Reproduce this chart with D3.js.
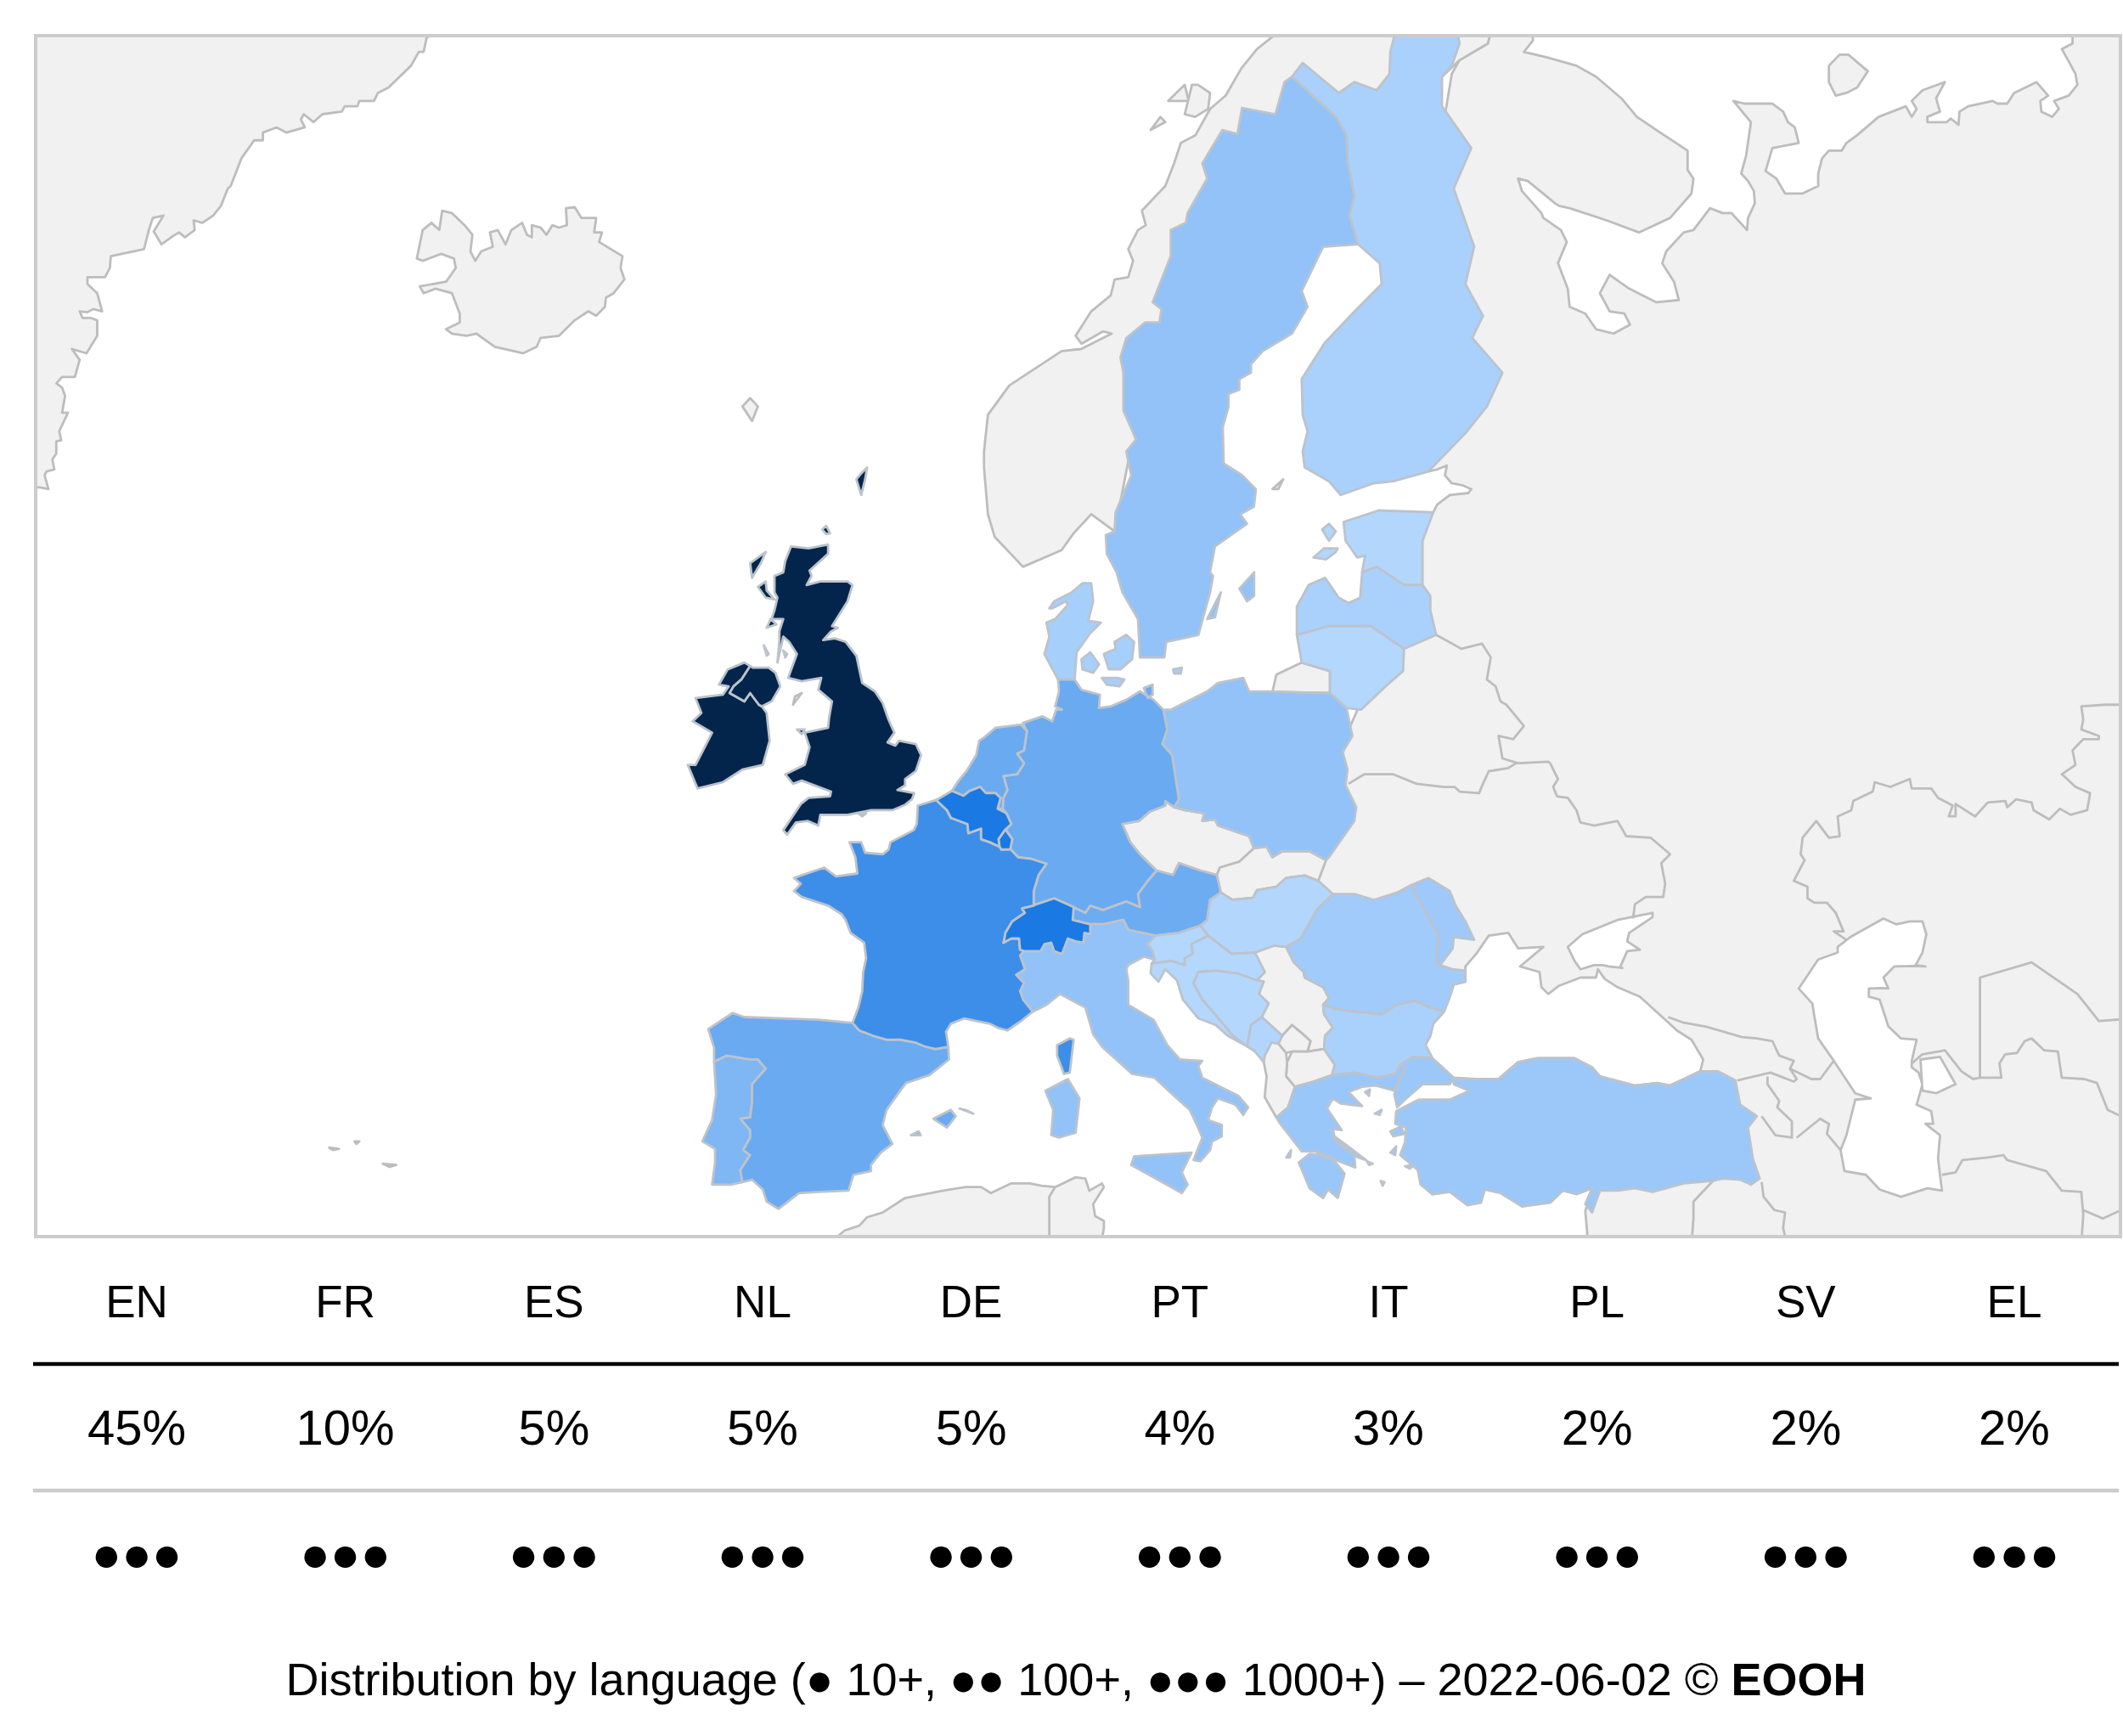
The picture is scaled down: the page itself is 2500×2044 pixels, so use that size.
<!DOCTYPE html>
<html>
<head>
<meta charset="utf-8">
<title>Distribution by language</title>
<script src="https://cdn.jsdelivr.net/npm/d3@7"></script>
<style>
  body { margin: 0; background: #fff; }
  text { font-family: "Liberation Sans", Arial, sans-serif; fill: #000; }
</style>
</head>
<body>
<div id="chart"></div>
<script>
// table under the map
var languages = ["EN","FR","ES","NL","DE","PT","IT","PL","SV","EL"];
var shares = [45,10,5,5,5,4,3,2,2,2];
var dotCounts = [3,3,3,3,3,3,3,3,3,3];

// country shade (relative level)
var shadeNames  = ["AT","MD","RO","BG","HU","SI","HR","BA","ME","EE","LV","LT","FI","DK","SE","PL","IT","GR","TR","PT","ES","DE","NL","FR","BE","LU","CH","IE","GB"];
var shadeValues = [5.2,2.4,2.2,1.7,1.2,1.1,1.1,1.1,1.3,1.2,1.7,1.1,1.7,1.9,3.1,3.1,3.1,2.6,2.5,4.2,5.4,5.4,5.4,8,10,10,10,20,20];

// outlines, [lon, lat]
var GB = [
 [[1.42,51.3],[1.3,51.1],[0.96,50.93],[0.3,50.75],[-0.8,50.75],[-2.0,50.6],[-3.4,50.6],[-3.5,50.25],[-4.05,50.4],[-4.65,50.35],[-5.1,49.95],[-5.3,50.1],[-4.4,50.95],[-4.0,51.15],[-2.9,51.2],[-2.85,51.35],[-4.35,51.7],[-4.8,51.6],[-5.2,51.9],[-4.2,52.2],[-3.95,52.75],[-4.2,53.2],[-3.0,53.35],[-2.95,53.65],[-2.8,54.15],[-3.5,54.5],[-3.35,54.85],[-4.35,54.75],[-5.05,54.85],[-4.6,55.55],[-5.0,55.9],[-5.3,56.05],[-5.6,55.3],[-5.5,55.95],[-5.5,56.2],[-5.3,56.55],[-5.9,56.55],[-5.75,56.8],[-5.6,57.15],[-5.75,57.3],[-5.75,57.75],[-5.3,57.85],[-5.2,58.15],[-4.9,58.55],[-4.0,58.5],[-3.0,58.6],[-3.0,58.35],[-3.95,57.9],[-3.85,57.75],[-4.1,57.5],[-3.4,57.6],[-2.0,57.6],[-1.75,57.5],[-2.0,57.05],[-2.8,56.35],[-2.5,56.3],[-2.85,56.2],[-3.25,55.95],[-2.65,56.0],[-2.1,55.9],[-1.55,55.5],[-1.25,54.7],[-0.6,54.45],[-0.2,54.1],[0.1,53.6],[0.4,53.2],[0.05,52.9],[0.45,52.8],[0.64,52.95],[1.5,52.85],[1.77,52.5],[1.5,52.0],[0.95,51.75],[0.95,51.55],[0.56,51.4]],
 [[-6.4,54.0],[-5.9,54.15],[-5.45,54.6],[-5.7,55.0],[-6.05,55.15],[-6.85,55.15],[-7.0,55.2],[-7.45,54.8],[-7.85,54.6],[-8.05,54.4],[-7.3,54.15],[-7.0,54.4],[-6.55,54.05]],
 [[-6.2,58.4],[-7.0,58.1],[-6.9,57.7],[-6.45,58.1]],
 [[-6.2,57.6],[-6.6,57.45],[-6.2,57.15],[-5.75,57.1],[-6.15,57.35]],
 [[-6.15,56.3],[-5.65,56.4],[-5.95,56.55]],
 [[-6.3,55.8],[-6.05,55.55],[-6.15,55.5]],
 [[-5.3,55.65],[-5.1,55.55],[-5.2,55.45]],
 [[-1.3,59.9],[-1.1,60.3],[-1.0,60.6],[-1.3,60.45],[-1.55,60.3]],
 [[-3.3,59.0],[-3.1,59.1],[-2.9,58.9],[-3.1,58.88]],
 [[-4.6,53.3],[-4.2,53.3],[-4.35,53.15]],
 [[-1.45,50.65],[-1.05,50.65],[-1.25,50.55]]
];
var IE = [[[-6.4,54.0],[-6.15,53.8],[-6.0,52.95],[-6.35,52.2],[-7.4,52.05],[-8.4,51.65],[-9.7,51.45],[-10.2,52.2],[-9.8,52.2],[-9.5,52.55],[-8.95,53.2],[-9.95,53.55],[-9.5,53.8],[-9.8,54.25],[-8.4,54.35],[-8.1,54.6],[-8.6,54.65],[-8.15,55.1],[-7.3,55.3],[-7.0,55.2],[-7.45,54.8],[-7.85,54.6],[-8.05,54.4],[-7.3,54.15],[-7.0,54.4],[-6.55,54.05]]];
var FR = [
 [[2.55,51.08],[1.6,50.9],[1.55,50.3],[1.4,50.1],[0.2,49.7],[0.1,49.45],[-0.2,49.3],[-1.1,49.35],[-1.3,49.7],[-1.9,49.7],[-1.6,49.2],[-1.5,48.65],[-2.6,48.55],[-3.2,48.85],[-4.75,48.5],[-4.4,48.3],[-4.75,48.05],[-4.35,47.85],[-3.0,47.55],[-2.3,47.25],[-2.1,47.05],[-1.85,46.6],[-1.15,46.25],[-1.05,45.7],[-1.2,45.2],[-1.25,44.5],[-1.45,43.9],[-1.75,43.33],[-1.4,43.05],[-0.7,42.85],[0.0,42.7],[0.7,42.7],[1.45,42.6],[1.95,42.45],[2.5,42.35],[3.17,42.43],[3.05,43.0],[3.3,43.3],[4.0,43.5],[4.6,43.4],[5.3,43.3],[5.7,43.15],[6.2,43.05],[6.9,43.4],[7.5,43.75],[7.0,44.2],[6.85,44.5],[7.05,44.8],[6.65,45.1],[7.1,45.3],[6.85,45.8],[7.05,45.95],[6.85,46.0],[6.8,46.4],[6.4,46.4],[6.0,46.25],[6.05,46.4],[6.1,46.6],[6.45,47.0],[7.1,47.3],[6.95,47.45],[7.55,47.55],[7.55,48.05],[7.8,48.6],[8.2,48.98],[7.4,49.15],[6.75,49.2],[6.35,49.47],[5.9,49.45],[5.8,49.55],[5.3,49.7],[4.85,49.8],[4.85,50.15],[4.2,50.0],[4.15,50.3],[3.3,50.5],[3.1,50.75]],
 [[9.4,42.75],[9.6,42.7],[9.4,41.45],[9.1,41.4],[8.75,42.1],[8.75,42.5]]
];
var BE = [[[2.55,51.08],[3.35,51.37],[3.95,51.22],[4.25,51.37],[4.8,51.5],[5.1,51.3],[5.6,51.3],[5.85,51.15],[5.7,50.8],[6.15,50.65],[6.4,50.3],[6.1,50.12],[5.75,49.8],[5.8,49.55],[5.3,49.7],[4.85,49.8],[4.85,50.15],[4.2,50.0],[4.15,50.3],[3.3,50.5],[3.1,50.75]]];
var LU = [[[6.1,50.12],[6.45,49.8],[6.35,49.47],[5.9,49.45],[5.8,49.55],[5.75,49.8]]];
var NL = [[[3.35,51.37],[3.7,51.7],[4.1,52.0],[4.6,52.5],[4.75,52.95],[5.0,53.05],[5.6,53.35],[6.9,53.45],[7.2,53.25],[7.05,52.65],[6.7,52.55],[7.05,52.25],[6.7,51.9],[6.0,51.85],[6.2,51.4],[6.0,51.15],[5.95,50.8],[5.7,50.8],[5.85,51.15],[5.6,51.3],[5.1,51.3],[4.8,51.5],[4.25,51.37],[3.95,51.22]]];
var DE = [
 [[7.2,53.25],[7.0,53.5],[8.0,53.7],[8.5,53.55],[8.7,53.9],[9.0,53.9],[8.65,54.0],[8.85,54.45],[8.8,54.8],[9.65,54.8],[10.0,54.5],[10.95,54.35],[10.9,53.95],[11.5,54.0],[12.3,54.2],[13.0,54.45],[13.7,54.2],[14.2,53.9],[14.4,53.3],[14.15,52.85],[14.65,52.5],[14.75,52.1],[15.0,51.1],[14.75,50.85],[14.3,51.05],[14.3,50.9],[13.5,50.7],[12.95,50.4],[12.1,50.3],[12.5,49.7],[13.0,49.3],[13.85,48.75],[13.4,48.4],[12.9,47.95],[13.0,47.5],[12.3,47.7],[11.1,47.4],[10.45,47.55],[10.2,47.3],[9.6,47.5],[8.6,47.8],[7.7,47.6],[7.55,47.55],[7.55,48.05],[7.8,48.6],[8.2,48.98],[7.4,49.15],[6.75,49.2],[6.35,49.47],[6.45,49.8],[6.1,50.12],[6.4,50.3],[6.15,50.65],[5.95,50.8],[6.0,51.15],[6.2,51.4],[6.0,51.85],[6.7,51.9],[7.05,52.25],[6.7,52.55],[7.05,52.65]],
 [[13.2,54.55],[13.65,54.65],[13.65,54.35],[13.4,54.25]]
];
var AT = [[[9.6,47.5],[10.2,47.3],[10.45,47.55],[11.1,47.4],[12.3,47.7],[13.0,47.5],[12.9,47.95],[13.4,48.4],[13.85,48.75],[14.7,48.6],[15.0,49.0],[16.1,48.75],[16.95,48.6],[17.15,48.0],[16.6,47.75],[16.45,47.05],[16.1,46.85],[15.0,46.6],[13.8,46.5],[12.4,46.7],[12.15,47.05],[11.1,46.9],[10.45,46.9],[9.55,47.05]]];
var CH = [[[6.0,46.25],[6.4,46.4],[6.8,46.4],[6.85,46.0],[7.05,45.95],[7.5,45.95],[7.9,45.95],[8.1,46.2],[8.45,46.25],[8.6,45.95],[9.0,45.85],[9.3,46.4],[9.7,46.3],[10.1,46.25],[10.15,46.6],[10.45,46.55],[10.45,46.9],[9.55,47.05],[9.6,47.5],[8.6,47.8],[7.7,47.6],[7.55,47.55],[6.95,47.45],[7.1,47.3],[6.45,47.0],[6.1,46.6],[6.05,46.4]]];
var PL = [[[14.2,53.9],[14.6,53.9],[16.45,54.45],[17.0,54.7],[18.3,54.85],[18.6,54.45],[19.55,54.45],[19.8,54.44],[22.75,54.4],[23.6,53.95],[23.9,53.1],[23.4,52.6],[23.65,52.05],[23.55,51.55],[24.1,50.85],[24.0,50.4],[22.7,49.2],[22.55,49.1],[21.7,49.4],[21.0,49.4],[20.3,49.4],[19.8,49.2],[19.5,49.55],[18.85,49.5],[18.6,49.9],[17.7,50.1],[17.0,50.25],[16.85,50.45],[16.2,50.4],[16.3,50.65],[15.3,50.75],[14.75,50.85],[15.0,51.1],[14.75,52.1],[14.65,52.5],[14.15,52.85],[14.4,53.3]]];
var LT = [[[21.05,56.1],[21.3,55.3],[22.75,55.05],[22.75,54.4],[23.6,53.95],[24.35,53.9],[25.7,54.65],[26.5,55.05],[26.55,55.7],[24.85,56.35],[22.7,56.35]]];
var LV = [[[21.05,56.1],[22.7,56.35],[24.85,56.35],[26.55,55.7],[28.2,56.1],[27.9,56.8],[27.9,57.2],[27.5,57.5],[26.55,57.5],[25.15,58.0],[24.4,57.85],[24.3,57.15],[23.7,57.0],[23.2,57.15],[22.5,57.7],[21.65,57.5],[21.05,56.9]]];
var EE = [
 [[23.45,59.2],[25.25,59.5],[28.05,59.45],[27.5,58.7],[27.5,57.5],[26.55,57.5],[25.15,58.0],[24.4,57.85],[24.55,58.3],[24.15,58.25],[23.55,58.7]],
 [[21.9,58.25],[22.45,58.5],[23.15,58.5],[23.05,58.4],[22.55,58.2]],
 [[22.35,59.0],[22.7,59.15],[23.05,58.95],[22.7,58.7]]
];
var FI = [
 [[26.1,69.85],[26.5,70.5],[28.9,70.5],[29.4,69.65],[29.0,69.25],[28.5,69.05],[28.5,68.5],[30.0,67.7],[29.1,66.9],[30.15,65.7],[29.7,64.9],[30.6,64.2],[30.05,63.7],[31.6,62.9],[30.8,62.1],[29.7,61.45],[27.8,60.5],[26.0,60.25],[25.0,60.2],[23.3,59.9],[22.7,60.25],[21.45,60.6],[21.35,61.0],[21.6,61.5],[21.35,61.9],[21.3,62.75],[22.5,63.6],[23.9,64.25],[25.4,64.9],[25.3,65.35],[24.2,65.75],[23.75,66.35],[24.0,66.75],[23.65,67.45],[23.6,67.95],[23.05,68.3],[20.8,69.05],[21.35,69.3],[22.2,69.05],[23.2,68.75],[24.0,68.95],[25.15,68.8],[25.8,69.1],[25.85,69.5]]
];
var SE = [
 [[20.8,69.05],[20.42,68.95],[19.95,68.35],[18.24,68.47],[18.0,67.97],[17.23,68.05],[16.2,67.4],[16.45,67.1],[15.44,66.4],[15.36,66.2],[14.58,66.05],[14.58,65.5],[13.65,64.5],[14.1,64.35],[14.0,64.05],[13.26,64.05],[12.3,63.7],[12.0,63.25],[12.15,62.9],[12.15,62.0],[12.8,61.3],[12.3,61.0],[12.55,60.4],[11.75,59.45],[11.7,58.95],[11.25,58.85],[11.3,58.35],[11.8,57.85],[12.1,57.3],[12.9,56.55],[13.0,55.45],[14.25,55.45],[14.35,55.9],[16.0,56.1],[16.6,57.3],[16.75,57.75],[16.6,57.85],[16.85,58.55],[18.5,59.15],[18.15,59.4],[18.85,59.6],[18.95,60.05],[18.25,60.4],[17.3,60.7],[17.25,61.6],[17.55,62.1],[17.55,62.4],[18.1,62.5],[18.1,62.75],[18.7,62.9],[18.7,63.1],[19.3,63.4],[20.8,63.8],[21.6,64.4],[21.3,64.75],[22.4,65.7],[24.2,65.75],[23.75,66.35],[24.0,66.75],[23.65,67.45],[23.6,67.95],[23.05,68.3]],
 [[18.1,57.4],[18.86,57.85],[18.86,57.2],[18.5,57.05]],
 [[16.45,56.55],[17.15,57.3],[16.85,56.6]]
];
var DK = [
 [[10.05,57.55],[10.5,57.55],[10.6,57.05],[10.35,56.5],[11,56.45],[10.45,56.15],[9.75,55.6],[9.65,54.8],[8.8,54.8],[8.1,55.55],[8.35,56.05],[8.2,56.45],[8.65,56.55],[9.3,56.95],[9.2,57.05],[8.5,56.85],[8.35,56.85],[8.6,57.05],[9.5,57.3]],
 [[10,55.4],[10.45,55.6],[10.9,55.25],[10.6,55],[10.05,55.1]],
 [[11.15,55.55],[11.75,55.7],[11.7,55.9],[12.3,56.1],[12.7,55.9],[12.6,55.4],[12,55.1],[11.4,55.1]],
 [[11.05,54.85],[11.85,54.85],[12.2,54.8],[11.95,54.6],[11.3,54.65]],
 [[14.7,55.1],[15.15,55.15],[15.1,54.98],[14.75,54.98]]
];
var ES = [
 [[-1.75,43.33],[-3.5,43.45],[-5.25,43.5],[-7.3,43.55],[-7.9,43.7],[-9.15,43.1],[-8.85,42.4],[-8.85,41.87],[-8.2,42.1],[-7.0,41.95],[-6.6,41.95],[-6.2,41.6],[-6.9,41.0],[-6.9,40.3],[-7.0,39.7],[-7.5,39.65],[-7.0,39.2],[-7.0,38.9],[-7.35,38.4],[-7.0,38.2],[-7.5,37.6],[-7.4,37.1],[-6.9,37.2],[-6.35,36.8],[-6.15,36.3],[-5.55,36.0],[-5.3,36.15],[-4.5,36.65],[-3.5,36.7],[-1.95,36.75],[-1.7,37.4],[-0.8,37.55],[-0.8,37.8],[-0.3,38.3],[0.3,38.65],[-0.2,39.4],[0.0,40.0],[0.75,40.8],[1.0,41.05],[2.2,41.35],[3.2,41.95],[3.17,42.43],[2.5,42.35],[1.95,42.45],[1.45,42.6],[0.7,42.7],[0.0,42.7],[-0.7,42.85],[-1.4,43.05]],
 [[2.4,39.65],[3.3,40.0],[3.55,39.75],[3.1,39.3]],
 [[3.75,40.05],[4.05,40.0],[4.45,39.85]],
 [[1.25,39.0],[1.65,39.15],[1.75,39.0]]
];
var PT = [[[-8.85,41.87],[-8.2,42.1],[-7.0,41.95],[-6.6,41.95],[-6.2,41.6],[-6.9,41.0],[-6.9,40.3],[-7.0,39.7],[-7.5,39.65],[-7.0,39.2],[-7.0,38.9],[-7.35,38.4],[-7.0,38.2],[-7.5,37.6],[-7.4,37.1],[-8.0,37.0],[-8.95,37.0],[-8.8,37.9],[-8.8,38.45],[-9.45,38.75],[-8.95,39.6],[-8.75,40.6]]];
var IT = [
 [[7.5,43.75],[7.0,44.2],[6.85,44.5],[7.05,44.8],[6.65,45.1],[7.1,45.3],[6.85,45.8],[7.05,45.95],[7.5,45.95],[7.9,45.95],[8.1,46.2],[8.45,46.25],[8.6,45.95],[9.0,45.85],[9.3,46.4],[9.7,46.3],[10.1,46.25],[10.15,46.6],[10.45,46.55],[10.45,46.9],[11.1,46.9],[12.15,47.05],[12.4,46.7],[13.8,46.5],[13.4,46.2],[13.65,45.95],[13.75,45.65],[13.2,45.75],[12.4,45.45],[12.3,45.3],[12.4,44.9],[12.4,44.0],[13.7,43.45],[14.4,42.5],[15.05,41.95],[16.2,41.9],[16.0,41.7],[16.2,41.25],[18.05,40.55],[18.55,40.1],[18.3,39.8],[17.9,40.2],[17.0,40.45],[16.7,40.1],[16.5,39.6],[17.2,39.4],[17.2,38.95],[16.7,38.75],[16.6,38.4],[16.1,37.95],[15.75,38.0],[16.2,38.9],[15.95,39.35],[15.55,40],[14.75,40.55],[13.75,41.25],[12.6,41.4],[11.1,42.4],[10.6,42.9],[10.2,43.9],[8.9,44.4],[8.2,44.0]],
 [[12.55,37.8],[12.7,38.15],[15.65,38.3],[15.15,37.5],[15.45,37.0],[15.15,36.65],[13.8,37.25]],
 [[8.15,40.75],[9.3,41.2],[9.9,40.45],[9.7,39.1],[8.85,38.9],[8.45,39.0],[8.55,40.0]]
];
var SI = [[[13.4,46.2],[13.8,46.5],[15.0,46.6],[16.1,46.85],[16.5,46.5],[15.65,46.2],[15.7,45.85],[15.3,45.7],[15.3,45.45],[14.6,45.6],[13.6,45.5],[13.75,45.65],[13.65,45.95]]];
var HR = [[[16.5,46.5],[17.7,45.85],[18.9,45.9],[19.4,45.2],[19.0,44.9],[18.0,45.15],[16.9,45.25],[16.0,45.2],[15.75,44.8],[16.2,44.2],[17.5,43.1],[17.7,42.9],[18.5,42.45],[17.5,42.85],[16.9,43.25],[16.0,43.5],[15.2,44.2],[14.9,44.9],[14.3,45.3],[13.95,44.85],[13.55,45.15],[13.6,45.5],[14.6,45.6],[15.3,45.45],[15.3,45.7],[15.7,45.85],[15.65,46.2]]];
var BA = [[[15.75,44.8],[16.0,45.2],[16.9,45.25],[18.0,45.15],[19.0,44.9],[19.35,44.85],[19.1,44.4],[19.6,44.05],[19.25,43.55],[18.7,43.25],[18.5,42.45],[17.7,42.9],[17.5,43.1],[16.2,44.2]]];
var ME = [[[18.5,42.45],[18.7,43.25],[19.25,43.55],[20.3,42.85],[20.1,42.55],[19.75,42.6],[19.4,42.1],[19.35,41.85],[18.9,42.25]]];
var HU = [[[16.1,46.85],[16.45,47.05],[16.6,47.75],[17.15,48.0],[17.75,47.75],[18.8,47.82],[19.0,48.08],[20.0,48.2],[20.5,48.5],[21.45,48.58],[22.15,48.4],[22.9,47.95],[22.05,47.4],[21.25,46.4],[20.5,46.1],[19.9,46.15],[18.9,45.9],[17.7,45.85],[16.5,46.5]]];
var RO = [[[20.5,46.1],[21.25,46.4],[22.05,47.4],[22.9,47.95],[24.0,47.95],[25.0,47.75],[26.2,48.0],[26.9,48.25],[27.8,47.15],[28.3,46.55],[28.2,45.5],[29.05,45.3],[29.7,45.25],[29.7,44.85],[29.1,44.75],[28.9,44.3],[28.6,43.75],[27.7,43.95],[27.1,44.15],[26.2,44.0],[25.4,43.65],[24.0,43.75],[23.0,43.85],[22.4,44.0],[22.7,44.25],[22.4,44.65],[21.45,45.0],[21.4,45.2],[20.9,45.55]]];
var MD = [[[26.9,48.25],[27.8,48.5],[28.9,48.05],[29.2,47.55],[29.7,47.0],[30.15,46.35],[29.1,46.45],[29.05,46.05],[28.4,45.45],[28.2,45.5],[28.3,46.55],[27.8,47.15]]];
var BG = [[[22.4,44.0],[23.0,43.85],[24.0,43.75],[25.4,43.65],[26.2,44.0],[27.1,44.15],[27.7,43.95],[28.6,43.75],[28.05,43.3],[27.9,42.85],[27.65,42.5],[28.0,42.0],[27.0,42.05],[26.35,41.75],[26.1,41.4],[25.2,41.25],[24.0,41.45],[22.85,41.35],[23.0,41.75],[22.45,42.35],[22.5,42.85],[22.9,43.15],[22.45,43.65]]];
var GR = [
 [[20.0,39.7],[20.6,40.1],[20.95,40.9],[21.9,41.1],[22.85,41.35],[24.0,41.45],[25.2,41.25],[26.1,41.4],[26.35,41.75],[26.6,41.6],[26.35,41.25],[26.05,40.75],[25.1,40.95],[24.4,40.9],[23.7,40.7],[24.4,40.15],[23.3,40.25],[22.9,40.45],[22.6,40.05],[23.35,39.2],[22.9,39.25],[23.0,38.85],[24.0,38.2],[24.05,37.7],[23.2,37.95],[23.0,38.02],[22.0,38.35],[21.3,38.35],[20.75,38.9],[20.2,39.45]],
 [[23.0,37.95],[23.5,37.45],[23.15,36.45],[22.65,36.8],[22.4,36.45],[21.7,36.85],[21.15,37.9],[21.7,38.25],[22.3,38.2]],
 [[22.9,39.0],[23.6,38.6],[24.6,38.0],[24.2,38.1],[23.1,38.7]],
 [[24.55,40.7],[24.8,40.8],[24.75,40.55]],
 [[25.05,39.85],[25.4,40.0],[25.3,39.8]],
 [[25.85,39.15],[26.4,39.35],[26.55,39.05],[26.0,38.95]],
 [[25.85,38.3],[26.15,38.55],[26.1,38.2]],
 [[26.6,37.75],[27.05,37.8],[26.85,37.65]],
 [[24.65,37.95],[24.95,37.85],[24.75,37.8]],
 [[20.5,38.1],[20.75,38.4],[20.7,38.1]],
 [[25.35,37.15],[25.55,37.1],[25.45,36.95]]
];
var TR = [
 [[26.05,40.6],[26.35,41.25],[26.6,41.6],[26.35,41.75],[27.0,42.05],[28.0,42.0],[29.1,41.25],[28.9,41.0],[27.5,41.0],[26.6,40.4],[26.2,40.1]],
 [[29.1,41.2],[30.25,41.2],[31.4,41.2],[32.4,41.85],[33.4,42.0],[35.3,42.0],[36.2,41.65],[36.6,41.3],[38.4,40.95],[39.55,41.05],[40.2,40.95],[41.75,41.5],[42.65,41.5],[43.55,41.15],[43.8,40.2],[44.65,39.75],[44.2,39.3],[44.45,38.05],[44.8,37.25],[44.35,37.0],[43.8,37.2],[42.9,37.25],[42.4,37.15],[40.9,37.05],[39.3,36.7],[38.4,36.85],[37.5,36.75],[36.6,36.75],[36.2,35.85],[35.85,36.2],[36.2,36.85],[35.4,36.6],[34.7,36.75],[34.05,36.25],[32.6,36.1],[31.5,36.65],[30.7,36.8],[30.5,36.25],[29.8,36.15],[28.9,36.7],[28.0,36.6],[27.4,37.0],[27.25,37.6],[26.35,38.2],[26.6,38.7],[26.65,39.3],[26.1,39.45],[26.15,39.95],[27.3,40.4],[28.9,40.4],[29.9,40.75],[29.1,41.0]]
];

// countries without data (no shade), drawn first and partly covered by the shaded ones
var eastLand = [[27.5,59.4],[28.05,59.45],[28.25,59.65],[28.9,59.9],[29.85,59.95],[30.0,60.05],[29.55,60.15],[29,60.2],[28.65,60.4],[28.75,60.65],[28.25,60.55],[27.8,60.5],[29,62],[28.5,68],[29.0,69.1],[29.4,69.35],[30.85,69.65],[31.6,71],[33.16,71],[33.16,69.7],[32.7,69.5],[33.9,69.4],[35.4,69.25],[36.4,69.05],[37.7,68.65],[38.5,68.3],[39.5,68.05],[41.1,67.65],[41.1,67.27],[41.4,67.1],[41.3,66.8],[40.2,66.3],[38.6,66.0],[36.95,66.25],[35.05,66.5],[34.5,66.55],[34.3,66.6],[32.9,67.05],[32.4,67.1],[32.6,66.85],[33.6,66.4],[33.7,66.3],[34.6,66.05],[34.9,65.8],[34.45,65.35],[34.95,64.8],[35.05,64.4],[35.85,64.25],[36.4,63.9],[37.3,63.8],[38.15,64.0],[37.85,64.25],[37.1,64.3],[36.6,64.7],[37.1,65.1],[38.1,64.8],[39.5,64.5],[40.65,64.55],[40.4,64.95],[39.8,65.35],[40.0,65.6],[40.9,66.0],[41.4,66.05],[42.25,66.5],[42.9,66.4],[43.35,66.4],[44.15,66.05],[44.2,66.3],[44.55,66.6],[44.5,66.85],[44.2,67.05],[43.85,67.2],[44.1,67.55],[44.35,68.2],[43.45,68.6],[44.0,68.55],[45.45,68.55],[46.0,68.4],[46.25,68.2],[46.6,68.1],[46.8,67.8],[45.45,67.7],[45.1,67.25],[45.65,67.1],[46.1,66.8],[47.0,66.8],[47.8,66.95],[47.8,67.2],[48.0,67.5],[48.35,67.65],[49.0,67.65],[49.25,67.8],[49.8,67.95],[50.9,68.3],[52.3,68.5],[52.6,68.3],[52.85,68.45],[52.6,68.6],[53.15,68.8],[54.3,68.95],[53.85,68.65],[54.05,68.4],[53.4,68.3],[53.4,68.2],[54.4,68.2],[54.6,68.27],[55.0,68.15],[55.05,68.4],[55.5,68.5],[56.75,68.6],[57.0,68.55],[57.5,68.55],[57.85,68.75],[59.0,68.95],[59.6,68.7],[59.2,68.6],[59.25,68.4],[59.8,68.3],[60.15,68.45],[59.9,68.6],[60.65,68.7],[61.1,68.9],[61.0,69.1],[60.7,69.3],[60.3,69.55],[60.85,69.65],[60.85,69.85],[61.5,71],[75,71],[75,30],[35.9,30],[35.95,35.0],[35.85,35.9],[36.2,36.85],[34,40],[30,40.5],[29.5,41.5],[28.5,44],[26,46.5],[25,47.5],[21.5,47.5],[21,49],[23,50],[23.5,53],[25,55],[26,57.3],[27,58.5]];
var NO = [
 [[11.7,58.95],[10.5,59.4],[9.6,58.9],[8.98,58.45],[7.0,58.0],[5.55,58.8],[5.2,59.4],[5.0,60.6],[5.0,61.0],[5.2,61.9],[6.3,62.6],[8.98,63.4],[10.0,63.45],[11.55,63.8],[11.1,63.85],[10.0,63.57],[9.7,63.75],[10.5,64.3],[11.5,64.65],[11.7,65.0],[12.4,65.05],[12.65,65.4],[12.4,65.65],[12.9,66.05],[13.3,66.15],[13.1,66.45],[14.3,66.95],[14.75,67.4],[15.1,67.8],[15.85,67.95],[16.6,68.45],[17.4,68.7],[18.2,69.2],[19.0,69.55],[19.9,69.8],[21,70.4],[25,71.2],[28,71.2],[31.6,70.6],[30.85,69.65],[29.4,69.35],[28.5,69.05],[21,68.5],[12.5,61]],
 [[14.45,68.6],[15.3,68.9],[15.5,68.6]],
 [[15.3,68.35],[15.67,68.9],[15.98,68.9],[16.6,68.75],[16.5,68.45],[15.83,68.3]],
 [[13.55,68.05],[14.05,68.3],[14.3,68.2]]
];
var otherLand = [
 [[-43.5,60.1],[-43.0,60.05],[-43.2,60.4],[-43.1,60.5],[-42.7,60.55],[-42.8,60.8],[-42.6,60.95],[-42.6,61.25],[-42.35,61.28],[-42.45,61.5],[-42.0,61.95],[-42.3,61.95],[-42.15,62.35],[-42.3,62.55],[-42.6,62.65],[-42.3,62.8],[-41.65,62.8],[-41.4,63.2],[-41.8,63.45],[-41.05,63.35],[-40.5,63.75],[-40.5,64.1],[-40.8,64.15],[-41.25,64.15],[-41.4,64.3],[-41.0,64.28],[-40.7,64.35],[-40.25,64.3],[-40.5,64.7],[-41.0,64.9],[-41.0,65.05],[-40.1,65.05],[-39.85,65.25],[-39.8,65.5],[-38.1,65.65],[-37.85,66.05],[-37.65,66.3],[-37.1,66.35],[-37.6,66.02],[-37.2,65.75],[-36.7,65.9],[-36.3,66],[-36.0,65.9],[-35.5,66.05],[-35.55,66.25],[-35.1,66.2],[-34.55,66.35],[-34.15,66.55],[-33.8,66.9],[-33.65,66.95],[-33.1,67.5],[-32.45,67.85],[-32.0,67.85],[-32.0,68],[-31.3,68.1],[-30.8,68],[-29.85,68.1],[-30.05,68.25],[-29.9,68.35],[-29.4,68.2],[-28.95,68.35],[-27.95,68.4],[-27.8,68.5],[-27.15,68.5],[-27.05,68.6],[-26.3,68.6],[-26.1,68.75],[-25.55,68.85],[-24.4,69.25],[-24.0,69.5],[-23.75,69.5],[-23.6,69.75],[-23.35,69.8],[-23,72],[-60,72],[-60,58]],
 [[-24.1,65.45],[-23.8,66.05],[-23.35,66.2],[-22.95,66.05],[-22.8,66.45],[-22.3,66.4],[-21.65,66.15],[-21.25,65.95],[-21.35,65.6],[-21.1,65.4],[-20.8,65.6],[-20.2,65.7],[-20.35,66.0],[-19.95,66.05],[-19.55,65.75],[-19.25,66.05],[-18.7,66.2],[-18.45,65.95],[-18.2,65.9],[-18.2,66.15],[-17.75,66.1],[-17.45,65.95],[-17.15,66.15],[-16.8,66.1],[-16.4,66.15],[-16.45,66.5],[-16.0,66.52],[-15.65,66.3],[-14.9,66.3],[-15.0,66.0],[-14.6,66.0],[-14.75,65.8],[-13.55,65.5],[-13.65,65.25],[-13.45,65.0],[-14.0,64.7],[-14.4,64.6],[-14.45,64.4],[-14.9,64.2],[-15.3,64.3],[-16.0,64.1],[-16.8,63.75],[-17.75,63.7],[-17.95,63.5],[-18.65,63.35],[-20.1,63.5],[-21.05,63.8],[-21.55,63.75],[-22.3,63.8],[-22.6,63.9],[-21.9,64.05],[-21.9,64.25],[-22.3,64.7],[-23.15,64.8],[-23.75,64.7],[-23.95,64.85],[-22.6,64.95],[-22.1,65.25],[-22.2,65.45],[-22.85,65.55],[-23.8,65.4]],
 [[-7.4,62.1],[-7.0,62.3],[-6.6,62.1],[-6.9,61.75]],
 [[-4.8,54.05],[-4.35,54.4],[-4.7,54.3]],
 [[-28.6,38.5],[-28.1,38.45],[-28.4,38.4]],
 [[-27.3,38.75],[-27.05,38.75],[-27.2,38.65]],
 [[-25.85,37.85],[-25.15,37.8],[-25.5,37.72]],
 [[48.35,68.95],[48.35,69.25],[48.9,69.45],[49.35,69.45],[50.35,69.15],[49.8,68.85],[49.25,68.75],[48.7,68.7]],
 [[19.8,60.05],[20.35,60.3],[20.1,60.05]],
 [[19.8,54.44],[20.0,54.95],[21.3,55.3],[22.75,55.05],[22.75,54.4]],
 [[-2.15,35.1],[-1.4,35.3],[-1.0,35.65],[-0.2,35.85],[0.95,36.45],[2.9,36.75],[4.05,36.9],[4.85,36.9],[5.35,36.65],[6.4,37.05],[7.35,37.05],[7.95,36.95],[8.65,36.9],[9.7,37.3],[10.2,37.25],[10.4,36.75],[11.05,37.05],[11.15,36.9],[10.6,36.2],[10.7,35.7],[11.15,35.5],[11.15,35.2],[11,34.5],[12,30],[-3,30],[-3,34.5]],
 // Czechia, Slovakia and the western Balkans
 [[12.1,50.3],[12.95,50.4],[13.5,50.7],[14.3,50.9],[14.3,51.05],[14.75,50.85],[15.3,50.75],[16.3,50.65],[16.2,50.4],[16.85,50.45],[17.0,50.25],[17.7,50.1],[18.6,49.9],[18.85,49.5],[18.1,49.05],[17.1,48.85],[16.95,48.6],[16.1,48.75],[15.0,49.0],[14.7,48.6],[13.85,48.75],[13.0,49.3],[12.5,49.7]],
 [[16.95,48.6],[17.1,48.85],[18.1,49.05],[18.85,49.5],[19.5,49.55],[19.8,49.2],[20.3,49.4],[21.0,49.4],[21.7,49.4],[22.55,49.1],[22.15,48.4],[21.45,48.58],[20.5,48.5],[20.0,48.2],[19.0,48.08],[18.8,47.82],[17.75,47.75],[17.15,48.0]],
 [[18.9,45.9],[19.9,46.15],[20.5,46.1],[20.9,45.55],[21.4,45.2],[21.45,45.0],[22.4,44.65],[22.7,44.25],[22.4,44.0],[22.45,43.65],[22.9,43.15],[22.5,42.85],[22.45,42.35],[21.6,42.25],[21.75,42.65],[21.3,42.95],[20.8,43.25],[20.3,42.85],[19.25,43.55],[19.6,44.05],[19.1,44.4],[19.35,44.85],[19.0,44.9],[19.4,45.2]],
 [[20.1,42.55],[20.3,42.85],[20.8,43.25],[21.3,42.95],[21.75,42.65],[21.6,42.25],[20.8,42.25],[20.5,42.2]],
 [[20.55,41.85],[20.8,42.25],[21.6,42.25],[22.45,42.35],[23,41.75],[22.85,41.35],[21.9,41.1],[20.95,40.9],[20.5,41.3]],
 [[19.35,41.85],[19.4,42.1],[19.75,42.6],[20.1,42.55],[20.5,42.2],[20.55,41.85],[20.5,41.3],[20.95,40.9],[20.6,40.1],[20.0,39.7],[19.4,40.5],[19.5,41.3]]
];
var waters = [
 // Black Sea
 [[28.6,43.75],[28.9,44.3],[29.1,44.75],[29.7,44.85],[29.7,45.4],[30.25,45.85],[30.9,46.5],[31.9,46.6],[32.4,46.05],[33.7,46.1],[32.5,45.4],[33.5,45.2],[33.6,44.65],[33.95,44.4],[34.5,44.7],[35.6,45.0],[36.4,45.0],[36.5,45.3],[36.85,44.95],[37.5,44.65],[38.65,44.3],[40.1,43.35],[40.55,43.05],[41.3,42.7],[41.9,41.95],[41.75,41.5],[40.2,40.95],[39.55,41.05],[38.4,40.95],[36.6,41.3],[36.2,41.65],[35.3,42.0],[33.4,42.0],[32.4,41.85],[31.4,41.2],[30.25,41.2],[29.1,41.25],[28.0,42.0],[27.65,42.5],[27.9,42.85],[28.05,43.3]],
 // Azov
 [[34.95,46.1],[35.7,46.55],[37.5,47.05],[39.3,47.3],[39.3,47.15],[38.1,46.6],[38.0,46.3],[38.65,46.0],[38.0,45.95],[37.65,45.4],[37.75,45.35],[37.05,45.4],[36.75,45.45],[36.3,45.45],[35.6,45.3],[35.3,45.6]],
 // Caspian
 [[49.45,46.45],[51.15,47.1],[51.8,46.9],[52.5,47.0],[53.15,47.0],[53.35,46.55],[53.15,45.9],[52.8,45.45],[53.3,45.4],[52.7,45.42],[51.7,45.4],[51.15,45.0],[51.4,44.6],[51.05,44.62],[50.4,44.6],[50.4,44.3],[50.95,44.2],[51.4,43.2],[52.05,42.75],[52.85,42.7],[52.6,41.9],[52.6,41.65],[52.95,41.45],[53.15,41.0],[52.85,40.2],[53.6,39.95],[53.7,39.45],[53.3,39.45],[54.05,39.0],[53.95,38.05],[54.15,36.75],[53.4,36.85],[52.05,36.5],[50.95,36.8],[50.25,37.4],[49.15,37.55],[48.95,38.4],[49.25,39.0],[49.7,40.4],[50.5,40.45],[49.7,40.65],[48.6,41.9],[47.8,42.75],[47.6,43.6],[47.5,44.05],[46.8,44.6],[47.8,45.65],[48.8,45.9],[48.8,46.1]],
 // Kara-Bogaz
 [[53.05,41.95],[54.05,42.05],[54.85,41.0],[53.85,40.65],[53.15,40.75]]
];
var borderLines = [
 // Belarus
 [[28.2,56.1],[29.5,55.7],[30.55,55.85],[31,55.45],[30.8,54.8],[31.25,54.6],[31.5,54.15],[31.8,54.05],[32.7,53.4],[32.15,53.0],[31.4,53.1],[31.6,52.4],[32.4,52.25],[33.95,52.3],[34.05,52.25]],
 [[23.7,51.6],[24.5,51.9],[26,51.9],[27.2,51.6],[28.6,51.5],[29.15,51.5],[29.4,51.35],[30.4,51.3],[30.6,51.6],[30.9,52.0],[31.9,52.1],[32.3,52.25]],
 // Ukraine / Russia
 [[34.05,52.25],[34.45,51.75],[34.2,51.5],[34.4,51.2],[34.95,51.15],[35.4,50.75],[35.6,50.35],[36.3,50.25],[37.5,50.4],[37.95,49.9],[39.2,49.85],[40.2,49.3],[39.75,49.0],[39.95,48.3],[39.85,47.85],[38.95,47.85],[38.4,47.6],[38.3,47.1]],
 // Kazakhstan
 [[49.25,46.35],[48.6,46.65],[49.1,46.65],[48.7,47.3],[48.25,47.65],[47.6,47.65],[47.25,47.8],[47.25,48.2],[46.55,48.4],[47.1,49.1],[46.9,49.3],[47.0,49.85],[47.7,50.4],[48.35,49.85],[48.9,49.9],[48.8,50.55],[49.5,50.75],[49.6,51.05],[50.6,51.35],[50.7,51.65],[51.5,51.5],[52.5,51.75],[52.6,51.45],[53.6,51.45],[53.95,51.15],[54.7,50.9],[54.5,50.55],[54.85,50.55],[54.85,50.95],[55.85,50.55],[56.5,51.0],[57.4,51.05],[57.5,50.85],[57.95,51.1],[58.75,51.0],[58.85,50.75],[59.65,50.45],[60.2,50.8],[60.75,50.6],[61.6,50.75],[61.75,51.3],[61.0,51.5],[60.4,51.85],[60.3,51.9],[61.0,52.2],[60.85,52.65],[61.4,53.0],[62.2,53.0],[62.2,53.1],[61.3,53.3],[61.4,53.6],[61.3,54.0],[62.55,54.05],[64,54.05]],
 [[52.6,41.8],[53.15,42.15],[54.3,42.3],[55.15,41.5],[55.75,41.2],[56.1,41.25],[57.2,41.25],[57.1,41.8],[57.4,42.15],[58.0,42.2],[58.4,42.65],[58.75,42.75],[59.4,42.3],[60.1,42.25],[60.3,41.25],[61.45,41.2],[62.1,41.05],[62.65,40.0],[64,39.5]],
 [[56.1,41.25],[56.1,45.0],[58.75,45.55],[61.1,44.4],[62.2,43.4],[64,43.5]],
 // Iran / Turkmenistan / Afghanistan
 [[54.15,37.4],[54.85,37.5],[55.2,38.0],[56.5,38.1],[57.3,38.2],[57.5,38.0],[59.5,37.55],[60.3,36.75],[61.3,36.7],[61.4,35.75],[61.3,34.5]],
 [[61.4,35.95],[62.4,35.6],[63.2,35.9],[64,35.7]],
 // Caucasus
 [[40.1,43.55],[40.85,43.35],[42.0,43.2],[43.9,42.8],[44.65,42.75],[45.45,42.65],[45.8,42.1],[46.55,41.9],[46.35,41.6],[47.45,41.2],[47.9,41.2],[48.6,41.9]],
 [[46.35,41.6],[46.7,41.2],[46.55,41.1],[45.35,41.45],[43.65,41.15]],
 [[45.2,41.3],[45.2,41.0],[45.8,40.35],[45.7,40.1],[46.45,39.55],[46.45,38.9],[45.6,39.0],[44.9,39.75]],
 [[46.7,38.9],[47.9,39.65],[48.35,39.45],[48.25,39.05],[48.95,38.4]],
 // Iraq / Syria
 [[44.9,37.1],[45,36.5],[45.55,35.95],[46.1,35.85],[46.0,35.2],[46.2,34.5]],
 [[42.4,37.15],[41.4,36.3],[41.4,35.6],[41.3,34.5]],
 // Algeria / Tunisia
 [[8.65,36.9],[8.35,36.5],[8.35,34.5]]
];

var shaded = {AT:AT,MD:MD,RO:RO,BG:BG,HU:HU,SI:SI,HR:HR,BA:BA,ME:ME,EE:EE,LV:LV,LT:LT,FI:FI,DK:DK,SE:SE,PL:PL,IT:IT,GR:GR,TR:TR,PT:PT,ES:ES,DE:DE,NL:NL,FR:FR,BE:BE,LU:LU,CH:CH,IE:IE,GB:GB};

var width = 2500, height = 2044;

var svg = d3.select("#chart").append("svg")
	.attr("width", width)
	.attr("height", height);

var projection = d3.geoMercator().scale(1315).translate([1044, 2310]);
var line = d3.line()
	.x(function(d) {return projection(d)[0]})
	.y(function(d) {return projection(d)[1]});
function ringPath(r) {return line(r) + "Z"}

var color = d3.scaleLinear()
	.domain([1, 10, 20])
	.range(["#b6d8fe", "#1a79e2", "#03254c"]);

svg.append("clipPath").attr("id", "frame")
	.append("rect").attr("x", 42).attr("y", 42).attr("width", 2455).attr("height", 1414);

var map = svg.append("g").attr("clip-path", "url(#frame)");
var lineColor = "#bdbdbd", landFill = "#f1f1f1", lineWidth = 2.8;

// grey land, then seas cut out in white, then grey borders
map.append("g").selectAll("path")
	.data([eastLand].concat(NO, otherLand))
	.enter().append("path")
	.attr("d", ringPath)
	.attr("fill", landFill).attr("stroke", lineColor).attr("stroke-width", lineWidth).attr("stroke-linejoin", "round");

map.append("g").selectAll("path")
	.data(waters)
	.enter().append("path")
	.attr("d", ringPath)
	.attr("fill", "#fff").attr("stroke", lineColor).attr("stroke-width", lineWidth).attr("stroke-linejoin", "round");

map.append("g").selectAll("path")
	.data(borderLines)
	.enter().append("path")
	.attr("d", line)
	.attr("fill", "none").attr("stroke", lineColor).attr("stroke-width", lineWidth).attr("stroke-linejoin", "round");

map.append("g").selectAll("path")
	.data(shadeNames)
	.enter().append("path")
	.attr("d", function(name) {return shaded[name].map(ringPath).join("")})
	.attr("fill", function(name, i) {return color(shadeValues[i])})
	.attr("stroke", "#bcc3cb").attr("stroke-width", lineWidth).attr("stroke-linejoin", "round");

svg.append("rect")
	.attr("x", 42).attr("y", 42).attr("width", 2455).attr("height", 1414)
	.attr("fill", "none").attr("stroke", "#cccccc").attr("stroke-width", 4);

// table
var x = d3.scalePoint().domain(languages).range([161, 2372]);

svg.append("g").selectAll("text")
	.data(languages)
	.enter().append("text")
	.attr("x", function(d) {return x(d)})
	.attr("y", 1551)
	.attr("text-anchor", "middle")
	.attr("font-size", 53)
	.text(function(d) {return d});

svg.append("g").selectAll("text")
	.data(shares)
	.enter().append("text")
	.attr("x", function(d, i) {return x(languages[i])})
	.attr("y", 1701)
	.attr("text-anchor", "middle")
	.attr("font-size", 58)
	.text(function(d) {return d + "%"});

svg.append("g").selectAll("text")
	.data(dotCounts)
	.enter().append("text")
	.attr("x", function(d, i) {return x(languages[i])})
	.attr("y", 1850)
	.attr("text-anchor", "middle")
	.attr("font-size", 59)
	.text(function(d) {return "●".repeat(d)});

svg.append("line").attr("x1", 39).attr("x2", 2495).attr("y1", 1606).attr("y2", 1606)
	.attr("stroke", "#000").attr("stroke-width", 4.5);
svg.append("line").attr("x1", 39).attr("x2", 2495).attr("y1", 1755).attr("y2", 1755)
	.attr("stroke", "#cccccc").attr("stroke-width", 4.5);

// caption
var caption = svg.append("text")
	.attr("x", 1267).attr("y", 1996)
	.attr("text-anchor", "middle")
	.attr("font-size", 54);
caption.append("tspan").text("Distribution by language (● 10+, ●● 100+, ●●● 1000+) – 2022-06-02 © ");
caption.append("tspan").attr("font-weight", "bold").text("EOOH");
</script>
</body>
</html>
